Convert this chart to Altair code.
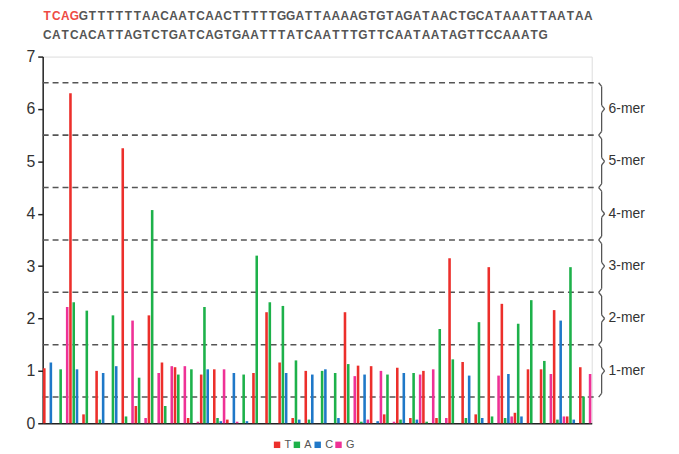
import altair as alt
import pandas as pd

# ---- data ----
key_seq = "TCAG"
seq_line1 = "GTTTTTTAACAATCAACTTTTTGGATTAAAAGTGTAGATAACTGCATAAATTAATAA"
seq_line2 = "CATCACATTAGTCTGATCAGTGAATTTATCAATTTGTTCAATAATAGTTCCAAATG"

flow_order = ["T", "A", "C", "G"]
nuc_colors = ["#ec2f2b", "#1db14a", "#1f78c8", "#ef3196"]

# flowgram signal, one value per flow (T, A, C, G repeating)
signal = [
    1.05, 0.00, 1.16, 0.00,
    0.00, 1.03, 0.00, 2.22,
    6.30, 2.31, 1.03, 0.00,
    0.17, 2.15, 0.00, 0.00,
    1.00, 0.07, 0.96, 0.00,
    0.00, 2.06, 1.09, 0.00,
    5.25, 0.13, 0.00, 1.96,
    0.33, 0.87, 0.00, 0.10,
    2.06, 4.07, 0.00, 0.96,
    1.16, 0.33, 0.00, 1.09,
    1.07, 0.93, 0.00, 1.09,
    0.10, 1.03, 0.00, 0.03,
    0.93, 2.22, 1.03, 0.00,
    1.03, 0.10, 0.04, 1.03,
    0.07, 0.00, 0.96, 0.03,
    0.00, 0.93, 0.04, 0.00,
    0.96, 3.20, 0.00, 0.00,
    2.12, 2.31, 0.00, 0.00,
    1.16, 2.24, 0.96, 0.00,
    0.10, 1.20, 0.07, 0.00,
    1.00, 0.07, 0.93, 0.00,
    0.00, 1.00, 1.03, 0.00,
    0.00, 0.96, 0.10, 0.00,
    2.12, 1.13, 0.00, 0.90,
    1.10, 0.03, 0.93, 0.07,
    1.09, 0.00, 0.04, 1.00,
    0.17, 0.93, 0.00, 0.03,
    1.06, 0.07, 0.96, 0.00,
    0.10, 0.96, 0.07, 0.93,
    1.00, 0.03, 0.00, 1.03,
    0.10, 1.80, 0.00, 0.10,
    3.15, 1.22, 0.00, 0.00,
    1.17, 0.10, 0.91, 0.00,
    0.17, 1.93, 0.10, 0.00,
    2.98, 0.13, 0.00, 0.91,
    2.28, 0.10, 0.94, 0.13,
    0.20, 1.90, 0.13, 0.00,
    1.03, 2.35, 0.00, 0.00,
    1.03, 1.19, 0.00, 0.94,
    2.16, 0.07, 1.96, 0.13,
    0.13, 2.98, 0.07, 0.00,
    1.07, 0.51, 0.00, 0.94,
]

y_ticks = [0, 1, 2, 3, 4, 5, 6, 7]
mer_levels = [1, 2, 3, 4, 5, 6]
mer_labels = ["1-mer", "2-mer", "3-mer", "4-mer", "5-mer", "6-mer"]
cut_levels = [0.5, 1.5, 2.5, 3.5, 4.5, 5.5, 6.5]

W, H = 554, 370
BRACE_X = 564
ep = 0.07
CHAR_STEP = 9.1  # spacing of the sequence letters (monospaced look)

df = pd.DataFrame({
    "flow": list(range(1, len(signal) + 1)),
    "nuc": [flow_order[i % 4] for i in range(len(signal))],
    "signal": signal,
})
cuts_df = pd.DataFrame({"level": cut_levels})
mer_df = pd.DataFrame({"level": mer_levels, "label": mer_labels})

ydom = alt.Scale(domain=[0, 7], nice=False)

bars = alt.Chart(df).mark_bar(size=2.6).encode(
    x=alt.X("flow:O", scale=alt.Scale(paddingInner=0, paddingOuter=0),
            axis=alt.Axis(labels=False, ticks=False, title=None, domainColor="#222",
                          domainWidth=1.5, grid=False)),
    y=alt.Y("signal:Q", scale=ydom,
            axis=alt.Axis(values=y_ticks, format="d", title=None, grid=False, labelFontSize=16,
                          labelColor="#333", labelFont="Liberation Sans", tickSize=5,
                          tickColor="#222", tickWidth=1.5, domainColor="#222",
                          domainWidth=1.5, labelPadding=3)),
    color=alt.Color("nuc:N", scale=alt.Scale(domain=flow_order, range=nuc_colors),
                    legend=alt.Legend(title=None, orient="none", legendX=231, legendY=386,
                                      direction="horizontal", symbolType="square",
                                      symbolSize=42, symbolStrokeWidth=0, labelFontSize=11,
                                      labelColor="#555", labelFont="Liberation Sans",
                                      columnPadding=0, labelOffset=2)),
)

cuts = alt.Chart(cuts_df).mark_rule(color="#555", strokeWidth=1.6, strokeDash=[6, 4]).encode(
    y=alt.Y("level:Q", scale=ydom), x=alt.value(0), x2=alt.value(BRACE_X - 4)
)

# braces built from the level arrays
vert_df = pd.DataFrame({
    "y1": [m - 0.5 + ep for m in mer_levels] + [m + ep for m in mer_levels],
    "y2": [m - ep for m in mer_levels] + [m + 0.5 - ep for m in mer_levels],
})
vert = alt.Chart(vert_df).mark_rule(color="#555", strokeWidth=1.3).encode(
    x=alt.value(BRACE_X), y=alt.Y("y1:Q", scale=ydom), y2="y2:Q"
)
tip_df = pd.DataFrame({
    "y1": [m - ep for m in mer_levels] + [m + ep for m in mer_levels],
    "y2": mer_levels + mer_levels,
})
tips = alt.Chart(tip_df).mark_rule(color="#555", strokeWidth=1.3).encode(
    x=alt.value(BRACE_X), x2=alt.value(BRACE_X + 3),
    y=alt.Y("y1:Q", scale=ydom), y2="y2:Q"
)
junc_df = pd.DataFrame({
    "y1": [c + ep for c in cut_levels[:-1]] + [c - ep for c in cut_levels[1:]],
    "y2": cut_levels[:-1] + cut_levels[1:],
})
juncs = alt.Chart(junc_df).mark_rule(color="#555", strokeWidth=1.3).encode(
    x=alt.value(BRACE_X), x2=alt.value(BRACE_X - 3),
    y=alt.Y("y1:Q", scale=ydom), y2="y2:Q"
)

mer_text = alt.Chart(mer_df).mark_text(align="left", baseline="middle", fontSize=14,
                                       color="#333", font="Liberation Sans").encode(
    x=alt.value(BRACE_X + 7), y=alt.Y("level:Q", scale=ydom), text="label:N"
)

# sequence letters, laid out one per cell
line1_full = key_seq + seq_line1
chars = []
for i, ch in enumerate(line1_full):
    chars.append({"ch": ch, "pos": (i + 0.5) * CHAR_STEP, "line": 1,
                  "key": i < len(key_seq)})
for i, ch in enumerate(seq_line2):
    chars.append({"ch": ch, "pos": (i + 0.5) * CHAR_STEP, "line": 2, "key": False})
chars_df = pd.DataFrame(chars)

xs_text = alt.X("pos:Q", scale=alt.Scale(domain=[0, W], nice=False, zero=True), axis=None)
FS = 12
key_text = alt.Chart(chars_df).transform_filter("datum.key").mark_text(
    align="center", baseline="alphabetic", fontSize=FS, color="#ee4a44", fontWeight="bold",
    font="Liberation Sans").encode(x=xs_text, y=alt.value(-37), text="ch:N")
l1_text = alt.Chart(chars_df).transform_filter("!datum.key && datum.line == 1").mark_text(
    align="center", baseline="alphabetic", fontSize=FS, color="#555", fontWeight="bold",
    font="Liberation Sans").encode(x=xs_text, y=alt.value(-37), text="ch:N")
l2_text = alt.Chart(chars_df).transform_filter("datum.line == 2").mark_text(
    align="center", baseline="alphabetic", fontSize=FS, color="#555", fontWeight="bold",
    font="Liberation Sans").encode(x=xs_text, y=alt.value(-18), text="ch:N")

chart = alt.layer(cuts, bars, vert, tips, juncs, mer_text, key_text, l1_text, l2_text).resolve_scale(
    x="independent"
).properties(
    width=W, height=H, autosize="none",
    padding={"left": 35, "top": 47, "right": 80, "bottom": 30},
).configure_view(stroke="#999", strokeWidth=1.5).configure(background="white")

chart.save("out.html", embed_options={"renderer": "svg", "actions": False})
